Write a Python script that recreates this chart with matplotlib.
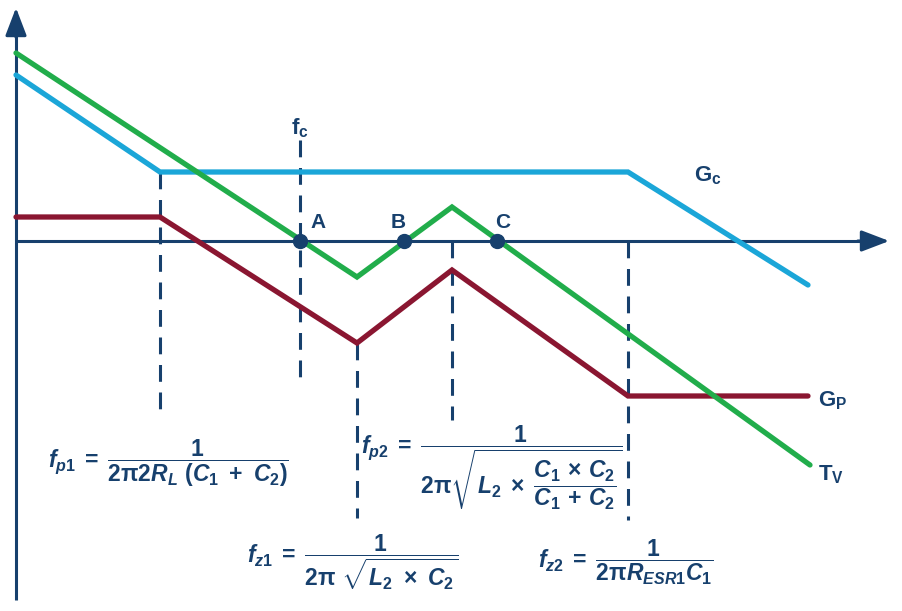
import matplotlib
matplotlib.use("Agg")
import matplotlib.pyplot as plt

# schematic Bode asymptotes, drawn in picture units (x right, y down)
tv_x = [16, 357, 452, 810]
tv_y = [53, 277, 207, 465]
gc_x = [16, 160, 628, 808]
gc_y = [75, 172, 172, 285]
gp_x = [16, 160, 357, 452, 628, 808]
gp_y = [217, 217, 343, 270, 396, 396]

# vertical dashed markers: x, top, bottom
mark_x = [160, 300, 357, 452, 628]
mark_top = [172, 140, 343, 241, 241]
mark_bot = [413, 380, 518, 420, 520]

cross_x = [300, 404, 497]
cross_lbl = ["A", "B", "C"]

NAVY = "#17406d"
GREEN = "#21ad4b"
BLUE = "#1ba6d8"
RED = "#8a1631"

plt.rcParams["mathtext.fontset"] = "custom"
plt.rcParams["mathtext.rm"] = "Liberation Sans:bold"
plt.rcParams["mathtext.bf"] = "Liberation Sans:bold"
plt.rcParams["mathtext.it"] = "Liberation Sans:bold:italic"
plt.rcParams["mathtext.sf"] = "Liberation Sans:bold"
plt.rcParams["font.family"] = ["Liberation Sans", "DejaVu Sans"]

fig = plt.figure(figsize=(9.03, 6.11), dpi=100)
ax = fig.add_axes([0, 0, 1, 1])
ax.set_xlim(0, 903)
ax.set_ylim(611, 0)
ax.axis("off")

AXIS_Y = 241
# axes with arrowheads
ax.plot([16, 16], [600, 30], color=NAVY, lw=2.2, solid_capstyle="butt")
ax.annotate("", xy=(16, 5), xytext=(16, 40),
            arrowprops=dict(arrowstyle="-|>,head_length=1.7,head_width=0.65",
                            color=NAVY, lw=2.2))
ax.plot([16, 870], [AXIS_Y, AXIS_Y], color=NAVY, lw=2.2, solid_capstyle="butt")
ax.annotate("", xy=(892, AXIS_Y), xytext=(855, AXIS_Y),
            arrowprops=dict(arrowstyle="-|>,head_length=1.7,head_width=0.65",
                            color=NAVY, lw=2.2))

for x, t, b in zip(mark_x, mark_top, mark_bot):
    ax.plot([x, x], [t, b], color=NAVY, lw=2.2, dashes=(5.5, 3.5))

ax.plot(gc_x, gc_y, color=BLUE, lw=3.8, solid_capstyle="round", solid_joinstyle="miter")
ax.plot(gp_x, gp_y, color=RED, lw=3.8, solid_capstyle="round", solid_joinstyle="miter")
ax.plot(tv_x, tv_y, color=GREEN, lw=3.8, solid_capstyle="round", solid_joinstyle="miter")

ax.plot(cross_x, [AXIS_Y] * 3, "o", color=NAVY, ms=10, zorder=5)
for x, lbl, dx in zip(cross_x, cross_lbl, [18, -6, 6]):
    ax.text(x + dx, 222, lbl, color=NAVY, fontsize=15, fontweight="bold",
            ha="center", va="center")

lbl_kw = dict(color=NAVY, fontsize=16, va="center", ha="left")
ax.text(291, 128, r"$\mathrm{f_c}$", **lbl_kw)
ax.text(694, 176, r"$\mathrm{G_c}$", **lbl_kw)
ax.text(818, 401, r"$\mathrm{G_P}$", **lbl_kw)
ax.text(818, 475, r"$\mathrm{T_V}$", **lbl_kw)

eq_kw = dict(color=NAVY, fontsize=16.5, va="center", ha="left")
ax.text(48, 463, r"$f_{p1}\;=\;\dfrac{\mathrm{1}}{\mathrm{2\pi 2}R_L\ (C_1\ +\ C_2)}$", **eq_kw)
ax.text(361, 468, r"$f_{p2}\;=\;\dfrac{\mathrm{1}}{\mathrm{2\pi}\sqrt{L_2\;\times\;\dfrac{C_1\,\times\,C_2}{C_1\,+\,C_2}}}$", **eq_kw)
ax.text(247, 562, r"$f_{z1}\;=\;\dfrac{\mathrm{1}}{\mathrm{2\pi}\ \sqrt{L_2\ \times\ C_2}}$", **eq_kw)
ax.text(538, 562, r"$f_{z2}\;=\;\dfrac{\mathrm{1}}{\mathrm{2\pi}R_{ESR1}C_1}$", **eq_kw)

fig.savefig("out.png", dpi=100)
